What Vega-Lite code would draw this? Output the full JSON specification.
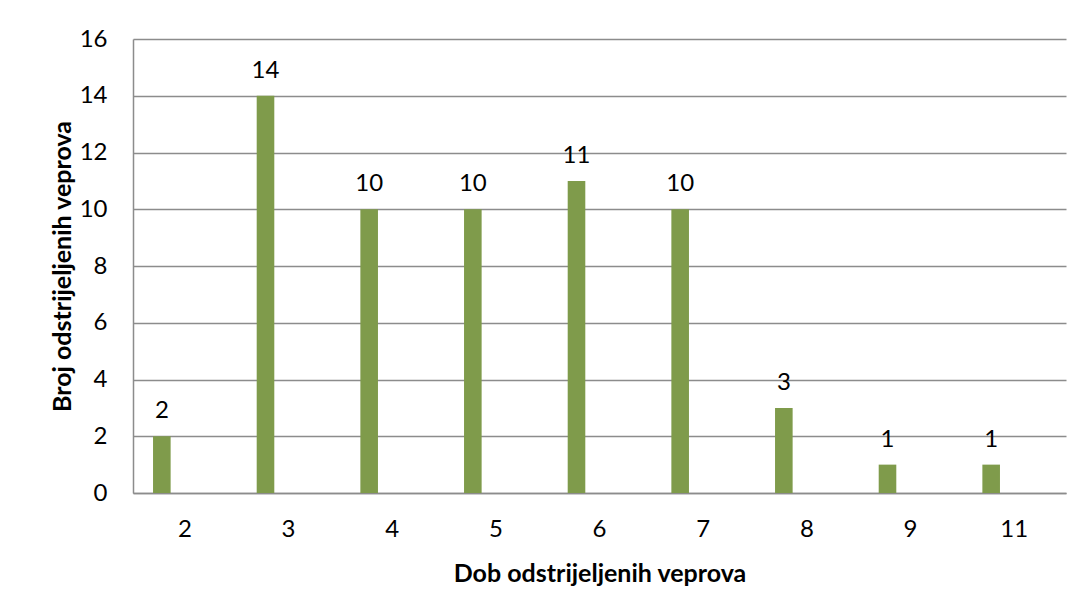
{
  "$schema": "https://vega.github.io/schema/vega-lite/v6.json",
  "autosize": "none",
  "width": 933,
  "height": 454,
  "padding": {"left": 133, "top": 39, "right": 18, "bottom": 119},
  "background": "white",
  "data": {
    "values": [
      {"dob": "2", "broj": 2},
      {"dob": "3", "broj": 14},
      {"dob": "4", "broj": 10},
      {"dob": "5", "broj": 10},
      {"dob": "6", "broj": 11},
      {"dob": "7", "broj": 10},
      {"dob": "8", "broj": 3},
      {"dob": "9", "broj": 1},
      {"dob": "11", "broj": 1}
    ]
  },
  "config": {
    "font": "Lato",
    "view": {"stroke": null}
  },
  "encoding": {
    "x": {
      "field": "dob",
      "type": "ordinal",
      "sort": ["2", "3", "4", "5", "6", "7", "8", "9", "11"],
      "scale": {"paddingInner": 0, "paddingOuter": 0},
      "axis": {
        "title": "Dob odstrijeljenih veprova",
        "titleFontSize": 25,
        "titleFontWeight": "bold",
        "titleColor": "#000000",
        "titlePadding": 20,
        "labelAngle": 0,
        "labelFontSize": 24,
        "labelColor": "#000000",
        "labelPadding": 24,
        "ticks": false,
        "domain": true,
        "domainColor": "#8c8c8c",
        "domainWidth": 1.5,
        "grid": false
      }
    },
    "y": {
      "field": "broj",
      "type": "quantitative",
      "scale": {"domain": [0, 16], "nice": false},
      "axis": {
        "title": "Broj odstrijeljenih veprova",
        "titleFontSize": 25,
        "titleFontWeight": "bold",
        "titleColor": "#000000",
        "titlePadding": 4,
        "values": [0, 2, 4, 6, 8, 10, 12, 14, 16],
        "labelFontSize": 24,
        "labelColor": "#000000",
        "labelPadding": 26,
        "ticks": false,
        "domain": true,
        "domainColor": "#8c8c8c",
        "domainWidth": 1.5,
        "grid": true,
        "gridColor": "#8c8c8c",
        "gridWidth": 1.5
      }
    }
  },
  "layer": [
    {
      "mark": {"type": "bar", "width": 17.6, "xOffset": -23, "color": "#7F9B4B"}
    },
    {
      "mark": {"type": "text", "xOffset": -23, "dy": -18, "baseline": "alphabetic", "fontSize": 24, "color": "#000000"},
      "encoding": {"text": {"field": "broj", "type": "quantitative"}}
    }
  ]
}
